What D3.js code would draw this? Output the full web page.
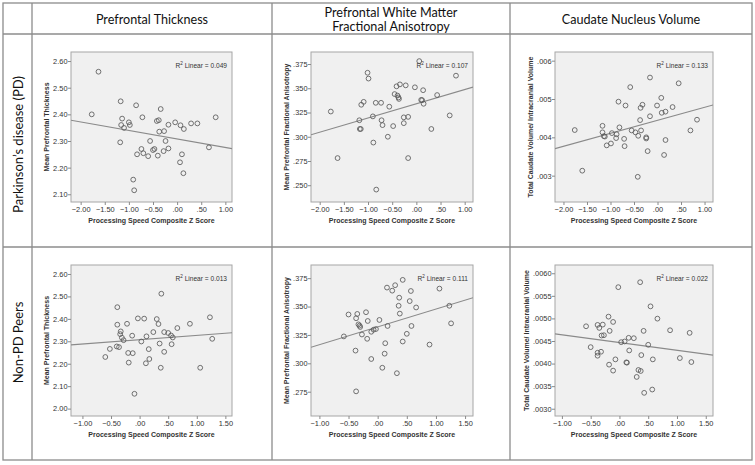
<!DOCTYPE html>
<html><head><meta charset="utf-8">
<script src="https://cdn.jsdelivr.net/npm/d3@7"></script>
<style>body{margin:0;background:#fff}svg{display:block}</style>
</head><body><svg id="c" width="755" height="465"></svg>
<script>
// ---------- categories / labels ----------
const columnHeaders = [["Prefrontal Thickness"], ["Prefrontal White Matter", "Fractional Anisotropy"], ["Caudate Nucleus Volume"]];
const rowLabels = ["Parkinson\u2019s disease (PD)", "Non-PD Peers"];
const xAxisTitle = "Processing Speed Composite Z Score";
const yAxisTitles = ["Mean Prefrontal Thickness", "Mean Prefrontal Fractional Anisotropy", "Total Caudate Volume/ Intracranial Volume"];

// ---------- series values ----------
const pdThickX = [-1.63,-1.77,-1.17,-0.85,-1.14,-1.16,-1.10,-1.00,-0.98,-1.18,-0.72,-0.42,-0.38,-0.34,-0.56,-0.37,-0.27,-0.18,-0.04,-0.24,0.07,0.14,0.29,0.42,0.80,0.66,-0.74,-0.70,-0.83,-0.60,-0.50,-0.47,-0.40,-0.28,-0.18,0.10,0.06,0.13,-0.91,-0.89];
const pdThickY = [2.560,2.400,2.449,2.434,2.384,2.360,2.349,2.370,2.360,2.295,2.389,2.375,2.378,2.420,2.300,2.335,2.337,2.361,2.370,2.300,2.359,2.345,2.366,2.366,2.389,2.276,2.270,2.254,2.250,2.243,2.266,2.270,2.245,2.262,2.272,2.250,2.220,2.179,2.155,2.115];

const pdFAX = [-1.77,-1.63,-1.01,-0.99,-1.09,-1.14,-1.18,-1.17,-1.15,-0.90,-0.84,-0.73,-0.72,-0.70,-0.89,-0.83,-0.59,-0.56,-0.48,-0.45,-0.41,-0.39,-0.37,-0.36,-0.34,-0.22,-0.26,-0.26,-0.17,-0.17,-0.03,0.06,0.10,0.12,0.14,0.15,0.31,0.43,0.69,0.82];
const pdFAY = [0.326,0.278,0.366,0.360,0.336,0.333,0.317,0.308,0.308,0.321,0.335,0.335,0.317,0.312,0.294,0.2455,0.300,0.331,0.311,0.344,0.352,0.3425,0.3405,0.339,0.354,0.353,0.320,0.314,0.3205,0.278,0.351,0.378,0.338,0.3377,0.348,0.334,0.308,0.343,0.322,0.363];

const pdCaudX = [-1.76,-1.60,-1.17,-1.17,-1.14,-1.12,-1.08,-0.99,-0.97,-0.88,-0.87,-0.81,-0.83,-0.68,-0.71,-0.70,-0.58,-0.55,-0.47,-0.41,-0.42,-0.36,-0.32,-0.37,-0.35,-0.24,-0.24,-0.21,-0.16,-0.16,-0.01,0.08,0.09,0.17,0.17,0.14,0.32,0.45,0.70,0.84];
const pdCaudY = [0.00419,0.00313,0.00430,0.00413,0.00403,0.00402,0.00379,0.00384,0.00411,0.00398,0.00408,0.00426,0.00493,0.00483,0.00396,0.00377,0.00531,0.00418,0.00413,0.00404,0.00297,0.00477,0.00485,0.00445,0.00418,0.00400,0.00397,0.00364,0.00556,0.00455,0.00483,0.00503,0.00464,0.00467,0.00393,0.00354,0.00479,0.00541,0.00418,0.00446];

const ctlThickX = [-0.60,-0.52,-0.39,-0.39,-0.40,-0.36,-0.33,-0.34,-0.31,-0.28,-0.22,-0.20,-0.19,-0.13,-0.12,-0.09,-0.03,0.03,0.08,0.12,0.11,0.16,0.17,0.24,0.30,0.33,0.35,0.37,0.38,0.43,0.43,0.50,0.55,0.58,0.56,0.66,0.88,1.06,1.23,1.27];
const ctlThickY = [2.230,2.266,2.452,2.374,2.277,2.274,2.344,2.332,2.316,2.305,2.378,2.248,2.205,2.325,2.247,2.066,2.402,2.299,2.401,2.322,2.202,2.265,2.221,2.341,2.399,2.377,2.290,2.182,2.512,2.341,2.253,2.337,2.326,2.317,2.287,2.359,2.378,2.182,2.407,2.311];

const ctlFAX = [-0.58,-0.50,-0.38,-0.37,-0.37,-0.35,-0.33,-0.31,-0.30,-0.27,-0.20,-0.17,-0.18,-0.11,-0.11,-0.07,-0.03,0.03,0.08,0.12,0.13,0.17,0.16,0.25,0.30,0.33,0.36,0.37,0.38,0.43,0.43,0.50,0.55,0.57,0.58,0.66,0.89,1.06,1.23,1.26];
const ctlFAY = [0.3237,0.3430,0.3112,0.2753,0.3397,0.3435,0.3343,0.3332,0.3320,0.3254,0.3450,0.3373,0.3216,0.3038,0.3278,0.3296,0.3302,0.3382,0.2961,0.3085,0.3177,0.3329,0.3667,0.3640,0.3688,0.2913,0.3507,0.3578,0.3438,0.3735,0.3192,0.3260,0.3548,0.3637,0.3329,0.3492,0.3165,0.3658,0.3507,0.3352];

const ctlCaudX = [-0.58,-0.50,-0.38,-0.35,-0.29,-0.31,-0.27,-0.38,-0.38,-0.32,-0.19,-0.17,-0.11,-0.18,-0.11,-0.07,-0.02,0.03,0.09,0.12,0.13,0.16,0.17,0.25,0.30,0.33,0.37,0.36,0.42,0.38,0.43,0.50,0.54,0.57,0.58,0.66,0.88,1.05,1.22,1.25];
const ctlCaudY = [0.004826,0.004364,0.004856,0.004790,0.004863,0.004621,0.004628,0.004240,0.004174,0.004262,0.005039,0.004724,0.004922,0.003976,0.003844,0.004093,0.005692,0.004474,0.004489,0.004027,0.004020,0.004570,0.004291,0.004562,0.003704,0.003858,0.003836,0.005802,0.004724,0.004188,0.003352,0.004416,0.005267,0.003425,0.004093,0.004995,0.004738,0.004122,0.004680,0.004034];

// ---------- fit lines ----------
const fitSlopes = [-0.0320, 0.01465, 0.000339, 0.0192, 0.01568, -0.0001712];
const fitIntercepts = [2.3076, 0.3340, 0.004443, 2.307, 0.3321, 0.004466];
const rSquared = ["0.049", "0.107", "0.133", "0.013", "0.111", "0.022"];

// ---------- tick values ----------
const xTicksPD = [-2, -1.5, -1, -0.5, 0, 0.5, 1];
const xTicksCtl = [-1, -0.5, 0, 0.5, 1, 1.5];
const yTicksThickPD = [2.1, 2.2, 2.3, 2.4, 2.5, 2.6];
const yTicksThickCtl = [2.0, 2.1, 2.2, 2.3, 2.4, 2.5, 2.6];
const yTicksFAPD = [0.25, 0.275, 0.3, 0.325, 0.35, 0.375];
const yTicksFACtl = [0.275, 0.3, 0.325, 0.35, 0.375];
const yTicksCaudPD = [0.003, 0.004, 0.005, 0.006];
const yTicksCaudCtl = [0.003, 0.0035, 0.004, 0.0045, 0.005, 0.0055, 0.006];

// ---------- panel config ----------
const panels = [
  {r:0,c:0,x:pdThickX,y:pdThickY,xt:xTicksPD,yt:yTicksThickPD,yd:2,xDom:[-2.2,1.138],yDom:[2.071,2.634]},
  {r:0,c:1,x:pdFAX,y:pdFAY,xt:xTicksPD,yt:yTicksFAPD,yd:3,xDom:[-2.18,1.172],yDom:[0.2327,0.3874]},
  {r:0,c:2,x:pdCaudX,y:pdCaudY,xt:xTicksPD,yt:yTicksCaudPD,yd:3,xDom:[-2.18,1.18],yDom:[0.002313,0.006226]},
  {r:1,c:0,x:ctlThickX,y:ctlThickY,xt:xTicksCtl,yt:yTicksThickCtl,yd:2,xDom:[-1.2,1.616],yDom:[1.967,2.64]},
  {r:1,c:1,x:ctlFAX,y:ctlFAY,xt:xTicksCtl,yt:yTicksFACtl,yd:3,xDom:[-1.144,1.636],yDom:[0.2536,0.3866]},
  {r:1,c:2,x:ctlCaudX,y:ctlCaudY,xt:xTicksCtl,yt:yTicksCaudCtl,yd:4,xDom:[-1.12,1.626],yDom:[0.002839,0.006183]}
];

// ---------- layout ----------
const colX = [3, 32, 272, 510, 752];
const rowY = [3, 34, 247, 460];
const frameCols = [[71, 232], [311, 473], [555, 713]];
const frameRows = [[52, 202], [265, 416]];

const svg = d3.select("#c");
const gridColor = "#8c8c8c";
const tbl = svg.append("g").attr("stroke", gridColor).attr("stroke-width", 1.3).attr("fill", "none");
tbl.append("rect").attr("x", colX[0]).attr("y", rowY[0]).attr("width", colX[4]-colX[0]).attr("height", rowY[3]-rowY[0]);
colX.slice(1, 4).forEach(x => tbl.append("line").attr("x1", x).attr("x2", x).attr("y1", rowY[0]).attr("y2", rowY[3]));
rowY.slice(1, 3).forEach(y => tbl.append("line").attr("x1", colX[0]).attr("x2", colX[4]).attr("y1", y).attr("y2", y));

const headFont = "Lato, 'Open Sans', sans-serif";
columnHeaders.forEach((lines, i) => {
  const cx = (colX[i+1] + colX[i+2]) / 2;
  const cy = (rowY[0] + rowY[1]) / 2 + 1;
  const t = svg.append("text").attr("x", cx).attr("text-anchor", "middle")
    .attr("font-family", headFont).attr("font-size", 12.6).attr("fill", "#111");
  lines.forEach((ln, j) => {
    t.append("tspan").attr("x", cx).attr("y", cy + (j - (lines.length-1)/2) * 14.5).attr("dy", "0.35em").text(ln);
  });
});
rowLabels.forEach((lab, i) => {
  const cx = (colX[0] + colX[1]) / 2 + 0.5;
  const cy = (rowY[i+1] + rowY[i+2]) / 2 + (i === 0 ? 4 : -11);
  svg.append("text").attr("transform", `translate(${cx},${cy}) rotate(-90)`)
    .attr("text-anchor", "middle").attr("dy", "0.35em")
    .attr("font-family", headFont).attr("font-size", 13).attr("fill", "#111").text(lab);
});

const fnt = "'Liberation Sans', Arial, sans-serif";
const fmt = (d, dec) => d3.format(`.${dec}f`)(d).replace(/^(-?)0\./, "$1.");

panels.forEach((p, i) => {
  const [x0, x1] = frameCols[p.c];
  const [y0, y1] = frameRows[p.r];
  const xs = d3.scaleLinear().domain(p.xDom).range([x0, x1]);
  const ys = d3.scaleLinear().domain(p.yDom).range([y1, y0]);
  const g = svg.append("g");
  const cid = "clip" + i;
  g.append("clipPath").attr("id", cid).append("rect").attr("x", x0).attr("y", y0).attr("width", x1-x0).attr("height", y1-y0);
  g.append("rect").attr("x", x0).attr("y", y0).attr("width", x1-x0).attr("height", y1-y0)
    .attr("fill", "#f0f0f0").attr("stroke", "#a6a6a6").attr("stroke-width", 1);

  // regression line
  const fx = d => fitIntercepts[i] + fitSlopes[i] * d;
  g.append("line").attr("clip-path", `url(#${cid})`)
    .attr("x1", xs(p.xDom[0])).attr("y1", ys(fx(p.xDom[0])))
    .attr("x2", xs(p.xDom[1])).attr("y2", ys(fx(p.xDom[1])))
    .attr("stroke", "#8a8a8a").attr("stroke-width", 1.1);

  // points
  g.selectAll("circle.pt").data(p.x.map((v, k) => [v, p.y[k]])).enter().append("circle")
    .attr("class", "pt").attr("cx", d => xs(d[0])).attr("cy", d => ys(d[1])).attr("r", 2.4)
    .attr("fill", "none").attr("stroke", "#5a5a5a").attr("stroke-width", 0.85);

  // axes
  const xa = d3.axisBottom(xs).tickValues(p.xt).tickSize(3).tickSizeOuter(0).tickFormat(d => fmt(d, 2));
  const ya = d3.axisLeft(ys).tickValues(p.yt).tickSize(3).tickSizeOuter(0).tickFormat(d => fmt(d, p.yd));
  const gx = g.append("g").attr("transform", `translate(0,${y1})`).call(xa);
  const gy = g.append("g").attr("transform", `translate(${x0},0)`).call(ya);
  [gx, gy].forEach(a => {
    a.select(".domain").remove();
    a.selectAll("line").attr("stroke", "#8a8a8a");
    a.selectAll("text").attr("font-family", fnt).attr("font-size", 7.4).attr("fill", "#333");
  });
  gx.selectAll("text").attr("dy", "0.71em").attr("y", 5);
  gy.selectAll("text").attr("x", -3.5);

  // axis titles
  g.append("text").attr("x", (x0 + x1) / 2).attr("y", y1 + 21).attr("text-anchor", "middle")
    .attr("font-family", fnt).attr("font-weight", "bold").attr("font-size", 7).attr("fill", "#333")
    .text(xAxisTitle);
  let minX = x0;
  gy.selectAll("text").each(function() { const b = this.getBBox(); minX = Math.min(minX, x0 + b.x); });
  g.append("text").attr("transform", `translate(${minX - 4},${(y0 + y1) / 2}) rotate(-90)`)
    .attr("text-anchor", "middle").attr("font-family", fnt).attr("font-weight", "bold")
    .attr("font-size", 7).attr("fill", "#333").text(yAxisTitles[p.c]);

  // R² label
  const rt = g.append("text").attr("x", x1 - 5).attr("y", y0 + 15.5).attr("text-anchor", "end")
    .attr("font-family", fnt).attr("font-size", 6.6).attr("fill", "#333");
  rt.append("tspan").text("R");
  rt.append("tspan").attr("font-size", 4.6).attr("dy", -2.5).text("2");
  rt.append("tspan").attr("dy", 2.5).text(" Linear = " + rSquared[i]);
});
</script>
</body></html>
